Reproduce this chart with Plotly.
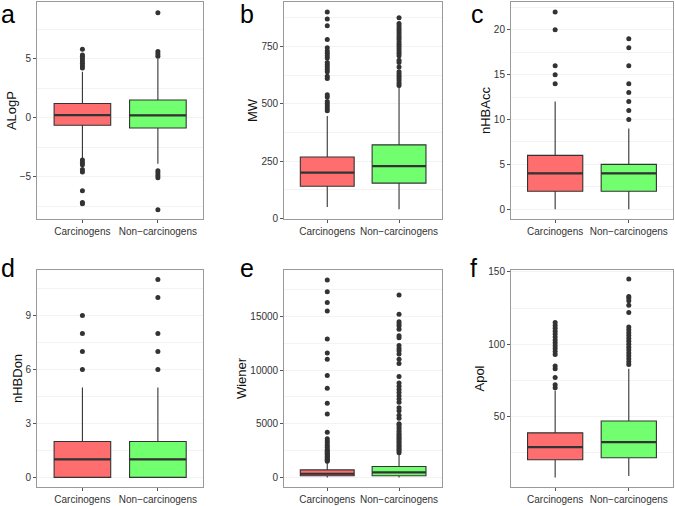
import plotly.graph_objects as go

GROUPS = ["Carcinogens", "Non\u2212carcinogens"]
FILLS = ["#FF6E6E", "#72FF6F"]
INK = "#333333"

# Summary statistics per descriptor: (q1, median, q3, lower whisker, upper whisker)
ALOGP_STATS = [(-0.65, 0.22, 1.2, -3.45, 3.9), (-0.88, 0.2, 1.5, -3.9, 5.0)]
ALOGP_OUT = [
    [4.2, 4.4, 4.6, 4.8, 5.0, 5.2, 5.3, 5.8, -3.6, -3.8, -4.0, -4.4, -4.6, -6.2, -7.2, -7.3],
    [5.2, 5.4, 5.6, 8.9, -4.5, -4.7, -4.9, -5.1, -7.8],
]
MW_STATS = [(140, 200, 268, 50, 447), (154, 228, 321, 40, 577)]
MW_OUT = [
    [470, 480, 490, 500, 510, 530, 540, 610, 620, 640, 650, 660, 670, 680,
     700, 710, 720, 730, 745, 780, 840, 870, 900],
    [580, 590, 600, 610, 620, 630, 640, 660, 680, 690, 710, 720, 730, 740,
     750, 760, 770, 780, 790, 800, 810, 820, 830, 840, 850, 875],
]
NHBACC_STATS = [(2, 4, 6, 0, 12), (2, 4, 5, 0, 9)]
NHBACC_OUT = [[14, 15, 16, 20, 22], [10, 11, 12, 13, 14, 16, 18, 19]]
NHBDON_STATS = [(0, 1, 2, 0, 5), (0, 1, 2, 0, 5)]
NHBDON_OUT = [[6, 7, 8, 9], [6, 7, 8, 10, 11]]
WIENER_STATS = [(150, 340, 700, 0, 1350), (160, 460, 1020, 0, 2250)]
WIENER_OUT = [
    [1500, 1600, 1700, 1800, 1900, 2000, 2100, 2200, 2300, 2400, 2500, 2600,
     2800, 3000, 3200, 3400, 3600, 4200, 5900, 6900, 8300, 9500, 11000,
     11600, 12900, 15500, 16300, 17300, 18400],
    [2300, 2450, 2600, 2750, 2900, 3050, 3200, 3350, 3500, 3650, 3800, 3950,
     4100, 4300, 4500, 4700, 4900, 5000, 5500, 5800, 6200, 6500, 7000, 7300,
     7600, 7900, 8200, 8500, 8800, 9400, 10600, 11000, 11500, 11800, 12000,
     12300, 13000, 13200, 13800, 14100, 14300, 14500, 15200, 17000],
]
APOL_STATS = [(20.2, 29, 38.8, 8, 68), (21.6, 32.4, 47, 9, 83)]
APOL_OUT = [
    [70, 72, 77, 83, 85, 93, 95, 97, 99, 101, 103, 105, 107, 109, 111, 113, 115],
    [86, 88, 90, 92, 94, 96, 98, 100, 102, 104, 106, 108, 110, 112, 122, 127,
     130, 132, 133, 145],
]

PANELS = [
    ("a", "ALogP", ALOGP_STATS, ALOGP_OUT, [-8.6, 9.8], [-5, 0, 5], 2.5),
    ("b", "MW", MW_STATS, MW_OUT, [-3, 944], [0, 250, 500, 750], 125),
    ("c", "nHBAcc", NHBACC_STATS, NHBACC_OUT, [-1.1, 23.1], [0, 5, 10, 15, 20], 2.5),
    ("d", "nHBDon", NHBDON_STATS, NHBDON_OUT, [-0.55, 11.55], [0, 3, 6, 9], 1.5),
    ("e", "Wiener", WIENER_STATS, WIENER_OUT, [-920, 19350], [0, 5000, 10000, 15000], 2500),
    ("f", "Apol", APOL_STATS, APOL_OUT, [1.2, 151.5], [50, 100, 150], 25),
]

# plot-area domains (paper fractions) for the 2x3 grid
X_DOMAINS = [(0.055, 0.301), (0.421, 0.655), (0.757, 0.997)]
Y_DOMAINS = [(0.567, 0.996), (0.037, 0.467)]
LETTER_POS = [(-0.002, 0.9715), (0.3526, 0.9715), (0.695, 0.9715),
              (-0.002, 0.4700), (0.3526, 0.4700), (0.693, 0.4700)]

BOX_WIDTH = 0.75


def tick_label(value):
    """Format a tick with a true minus sign, as R does."""
    return str(value).replace("-", "\u2212")


fig = go.Figure()
layout = {}

for idx, (letter, title, stats, outliers, yrange, ticks, minor_step) in enumerate(PANELS):
    row, col = divmod(idx, 3)
    n = idx + 1
    xa = "x" if n == 1 else f"x{n}"
    ya = "y" if n == 1 else f"y{n}"

    for g, (name, fill) in enumerate(zip(GROUPS, FILLS)):
        pos = g + 1
        q1, med, q3, lo, hi = stats[g]
        fig.add_trace(go.Box(
            x=[pos], q1=[q1], median=[med], q3=[q3],
            lowerfence=[lo], upperfence=[hi],
            width=BOX_WIDTH, fillcolor=fill, boxpoints=False,
            line={"color": INK, "width": 1.1}, whiskerwidth=0,
            showlegend=False, xaxis=xa, yaxis=ya, name=name,
        ))
        # thicker median bar, as in ggplot
        fig.add_trace(go.Scatter(
            x=[pos - BOX_WIDTH / 2, pos + BOX_WIDTH / 2], y=[med, med],
            mode="lines", line={"color": INK, "width": 2.2},
            showlegend=False, hoverinfo="skip", xaxis=xa, yaxis=ya,
        ))
        fig.add_trace(go.Scatter(
            x=[pos] * len(outliers[g]), y=outliers[g], mode="markers",
            marker={"color": INK, "size": 5}, showlegend=False,
            xaxis=xa, yaxis=ya,
        ))

    key_x = "xaxis" if n == 1 else f"xaxis{n}"
    key_y = "yaxis" if n == 1 else f"yaxis{n}"
    layout[key_x] = dict(
        domain=X_DOMAINS[col], anchor=ya, range=[0.4, 2.6],
        tickvals=[1, 2], ticktext=GROUPS, ticks="outside", ticklen=3,
        tickcolor="#555555", showgrid=False, zeroline=False, tickangle=0,
        showline=True, linecolor="#9A9A9A", mirror=True, automargin=False,
        tickfont={"size": 10, "color": "#333333"},
    )
    layout[key_y] = dict(
        domain=Y_DOMAINS[row], anchor=xa, range=yrange, tickvals=ticks,
        ticktext=[tick_label(t) for t in ticks], automargin=False,
        ticks="outside", ticklen=3, tickcolor="#555555",
        showgrid=True, gridcolor="#F3F3F3", zeroline=False,
        minor={"dtick": minor_step, "showgrid": True, "gridcolor": "#F3F3F3"},
        showline=True, linecolor="#9A9A9A", mirror=True,
        tickfont={"size": 10, "color": "#333333"},
        title={"text": title, "font": {"size": 13, "color": "#111111"}, "standoff": 0},
    )

annotations = [
    dict(text=letter, x=LETTER_POS[i][0], y=LETTER_POS[i][1], xref="paper",
         yref="paper", xanchor="left", yanchor="middle", showarrow=False,
         font={"size": 25, "color": "#000000"})
    for i, (letter, *_rest) in enumerate(PANELS)
]

fig.update_layout(
    width=675, height=506,
    margin={"l": 0, "r": 0, "t": 0, "b": 0, "autoexpand": False},
    paper_bgcolor="white", plot_bgcolor="white",
    font={"family": "Liberation Sans, Arial, sans-serif", "color": "#333333"},
    annotations=annotations,
    **layout,
)

# drop the default 8px page margin so the figure fills the window exactly
fig.write_html(
    "out.html",
    config={"displayModeBar": False},
    post_script="document.body.style.margin = '0';",
)
